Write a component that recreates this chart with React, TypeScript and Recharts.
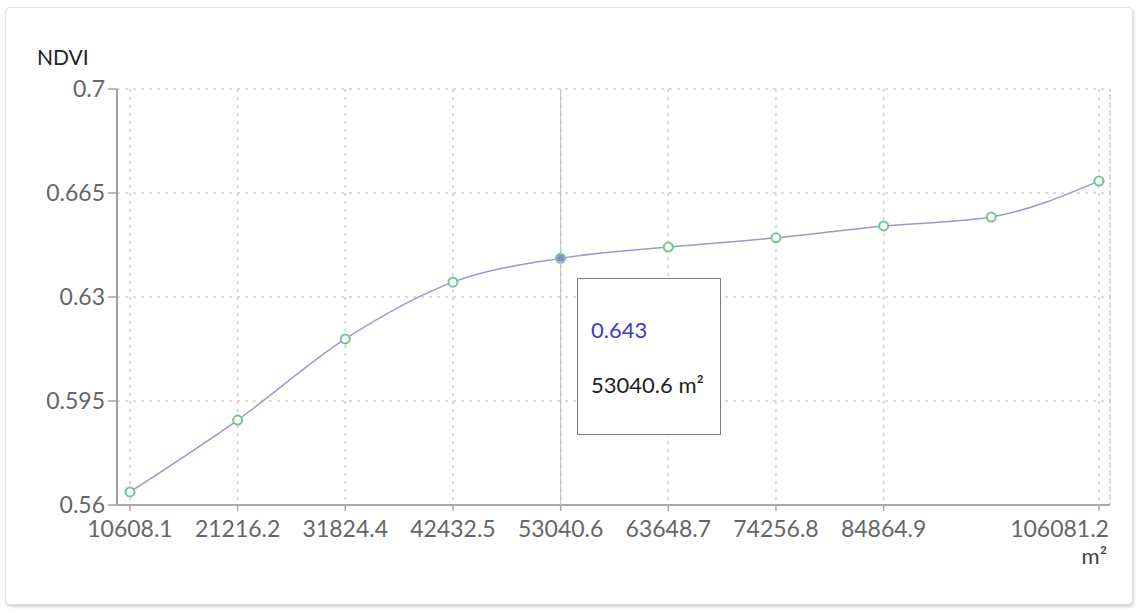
import React from 'react';
import {
  LineChart,
  Line,
  XAxis,
  YAxis,
  Tooltip,
  CartesianGrid,
  ReferenceLine,
} from 'recharts';

const areas = [10608.1, 21216.2, 31824.4, 42432.5, 53040.6, 63648.7, 74256.8, 84864.9, 95472.9, 106081.2];
const ndvi = [0.5644, 0.5886, 0.6159, 0.635, 0.643, 0.6468, 0.6499, 0.6539, 0.6569, 0.669];
const xTicks = [10608.1, 21216.2, 31824.4, 42432.5, 53040.6, 63648.7, 74256.8, 84864.9, 106081.2];
const yTicks = [0.56, 0.595, 0.63, 0.665, 0.7];

const data = areas.map((a, i) => ({ area: a, ndvi: ndvi[i] }));

const FONT = 'Lato, "Open Sans", sans-serif';
const X_MIN = 9330;
const X_MAX = 107170;
const gridStyle = { stroke: '#cfcfcf', strokeWidth: 1.5, strokeDasharray: '3 5' };

const XTick = (props: any) => {
  const { x, y, payload, index } = props;
  const last = index === xTicks.length - 1;
  return (
    <text
      x={last ? x + 10 : x}
      y={y}
      dy="0.71em"
      textAnchor={last ? 'end' : 'middle'}
      fill="#666"
      fontSize={23}
      fontFamily={FONT}
    >
      {payload.value}
    </text>
  );
};

const TipBox = ({ active, payload }: any) => {
  if (!active || !payload || !payload.length) return null;
  const p = payload[0].payload;
  return (
    <div
      style={{
        width: 144,
        height: 157,
        boxSizing: 'border-box',
        border: '1.5px solid #808080',
        background: '#fff',
        padding: '40px 0 0 13px',
        fontFamily: FONT,
        fontSize: 22,
      }}
    >
      <div style={{ color: '#3c3cc8', lineHeight: '22px' }}>{p.ndvi.toFixed(3)}</div>
      <div style={{ color: '#222', lineHeight: '22px', marginTop: 33 }}>
        {p.area} m²
      </div>
    </div>
  );
};

export default function App() {
  return (
    <div
      style={{
        position: 'absolute',
        left: 5,
        top: 7,
        width: 1128,
        height: 598,
        boxSizing: 'border-box',
        border: '1px solid #e2e2e2',
        borderRadius: 5,
        boxShadow: '1px 2px 3px rgba(0,0,0,0.18)',
        background: '#fff',
      }}
    >
      <div
        style={{
          position: 'absolute',
          left: 31,
          top: 36,
          fontFamily: FONT,
          fontSize: 21,
          color: '#222',
        }}
      >
        NDVI
      </div>
      <div
        style={{
          position: 'absolute',
          right: 25,
          top: 536,
          fontFamily: FONT,
          fontSize: 22,
          lineHeight: '24px',
          color: '#444',
        }}
      >
        m²
      </div>
      <div style={{ position: 'absolute', left: 0, top: 0 }}>
        <LineChart
          width={1126}
          height={596}
          data={data}
          margin={{ top: 81, right: 22, left: 0, bottom: 59 }}
        >
          <CartesianGrid {...gridStyle} />
          <XAxis
            dataKey="area"
            type="number"
            domain={[X_MIN, X_MAX]}
            ticks={xTicks}
            interval={0}
            height={40}
            tick={<XTick />}
            tickSize={6}
            tickMargin={10}
            axisLine={{ stroke: '#a8a8a8', strokeWidth: 2 }}
            tickLine={{ stroke: '#a8a8a8', strokeWidth: 1.5 }}
          />
          <YAxis
            dataKey="ndvi"
            type="number"
            domain={[0.56, 0.7]}
            ticks={yTicks}
            interval={0}
            width={111}
            tickSize={9}
            tickMargin={3}
            tick={{ fill: '#666', fontSize: 23, fontFamily: FONT }}
            axisLine={{ stroke: '#a0a0a0', strokeWidth: 2 }}
            tickLine={{ stroke: '#a0a0a0', strokeWidth: 1.5 }}
          />
          <ReferenceLine x={X_MAX} {...gridStyle} />
          <Tooltip
            active
            defaultIndex={4}
            content={<TipBox />}
            position={{ x: 571, y: 270 }}
            cursor={{ stroke: '#bdbdbd', strokeWidth: 1 }}
            wrapperStyle={{ outline: 'none' }}
            isAnimationActive={false}
          />
          <Line
            type="monotone"
            dataKey="ndvi"
            stroke="#9b96d6"
            strokeWidth={1.5}
            dot={{ r: 4.5, stroke: '#74c68e', strokeWidth: 2, fill: '#fff' }}
            activeDot={{ r: 3.5, fill: '#8884d8', stroke: 'none' }}
            isAnimationActive={false}
          />
        </LineChart>
      </div>
    </div>
  );
}
